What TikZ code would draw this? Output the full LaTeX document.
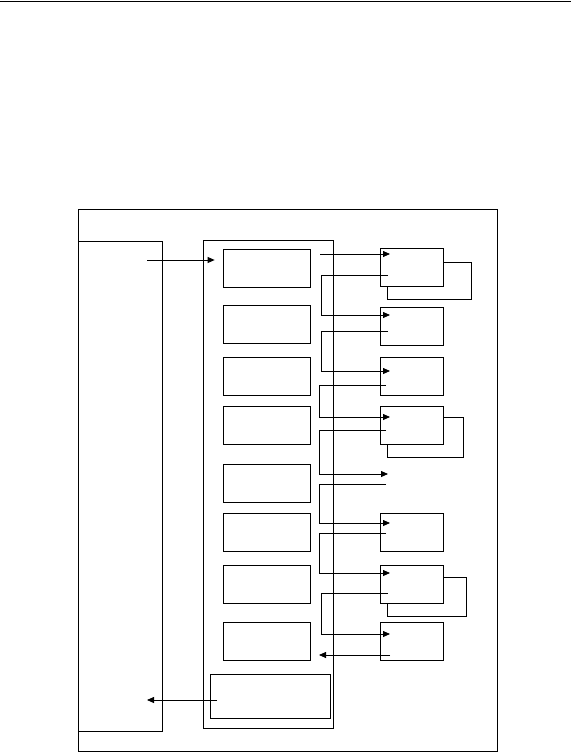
\documentclass[tikz,border=0pt]{standalone}
\usetikzlibrary{arrows.meta}
\begin{document}
\begin{tikzpicture}[x=1pt,y=-1pt,line width=0.8pt,
  rbox/.style={draw,rectangle,inner sep=0pt,minimum width=63pt,minimum height=38pt},
  mbox/.style={draw,rectangle,inner sep=0pt,minimum width=87pt,minimum height=38pt},
  frame/.style={draw,rectangle,inner sep=0pt},
  arr/.style={-{Triangle[length=7pt,width=6pt]}}]
\useasboundingbox (0,0) rectangle (571,752);
% top rule
\coordinate (tl) at (0,1.5);
\coordinate (tr) at (571,1.5);
\draw (tl) -- (tr);
% frames
\node[frame,minimum width=419pt,minimum height=542pt] (outer) at (287.5,480) {};
\node[frame,minimum width=84pt,minimum height=490pt] (left) at (120,486) {};
\node[frame,minimum width=130pt,minimum height=488pt] (cont) at (268,484) {};
\node[frame,minimum width=120pt,minimum height=44pt] (wide) at (270,696) {};
% middle boxes
\node[mbox] (m1) at (266.5,268) {};
\node[mbox] (m2) at (266.5,324) {};
\node[mbox] (m3) at (266.5,376) {};
\node[mbox] (m4) at (266.5,425) {};
\node[mbox] (m5) at (266.5,483) {};
\node[mbox] (m6) at (266.5,532.5) {};
\node[mbox] (m7) at (266.5,584.5) {};
\node[mbox] (m8) at (266.5,641.5) {};
% right boxes
\node[rbox] (r1) at (411.5,267) {};
\node[rbox] (r2) at (411.5,326) {};
\node[rbox] (r3) at (411.5,376.5) {};
\node[rbox] (r4) at (411.5,425) {};
\node[rbox] (r6) at (411.5,532) {};
\node[rbox] (r7) at (411.5,584) {};
\node[rbox] (r8) at (411.5,641.5) {};
% left in / out
\coordinate (a0) at (147,260);
\draw[arr,shorten >=8pt] (a0) -- (a0 -| m1.west);
\coordinate (b0) at (217,700);
\coordinate (b1) at (147,700);
\draw[arr] (b0) -- (b1);
% chain connectors
\coordinate (c1s) at (320,254);
\coordinate (c1e) at (390,254);
\draw[arr] (c1s) -- (c1e);
\coordinate (c2s) at (388,275);
\coordinate (c2e) at (390,315);
\draw[arr] (c2s) -- (321,275) -- (321,315) -- (c2e);
\coordinate (c3s) at (388,331);
\coordinate (c3e) at (390,371);
\draw[arr] (c3s) -- (321,331) -- (321,371) -- (c3e);
\coordinate (c4s) at (386,385);
\coordinate (c4e) at (390,417);
\draw[arr] (c4s) -- (319,385) -- (319,417) -- (c4e);
\coordinate (c5s) at (386,430);
\coordinate (c5e) at (388,474);
\draw[arr] (c5s) -- (319,430) -- (319,474) -- (c5e);
\coordinate (c6s) at (386,484);
\coordinate (c6e) at (390,523);
\draw[arr] (c6s) -- (319,484) -- (319,523) -- (c6e);
\coordinate (c7s) at (386,533);
\coordinate (c7e) at (390,573);
\draw[arr] (c7s) -- (319,533) -- (319,573) -- (c7e);
\coordinate (c8s) at (388,593);
\coordinate (c8e) at (390,634);
\draw[arr] (c8s) -- (321,593) -- (321,634) -- (c8e);
\coordinate (c9s) at (390,655);
\coordinate (c9e) at (319,655);
\draw[arr] (c9s) -- (c9e);
% feedback loops
\draw (r1.east |- 0,262) -- (471,262) -- (471,299) -- (387,299) -- (387,286);
\draw (r4.east |- 0,417) -- (463,417) -- (463,457) -- (387,457) -- (387,444);
\draw (r7.east |- 0,577) -- (466,577) -- (466,616) -- (387,616) -- (387,603);
\end{tikzpicture}
\end{document}
